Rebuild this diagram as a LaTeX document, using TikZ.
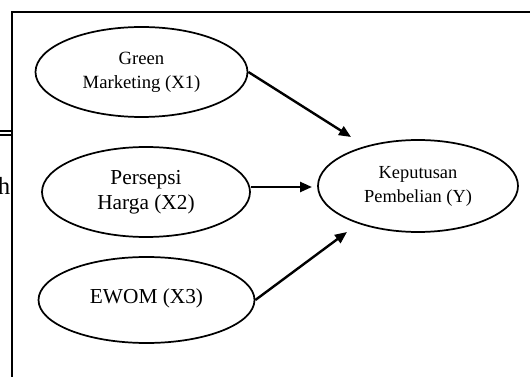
\documentclass[tikz,border=0pt]{standalone}
\usepackage{fontspec}
\setmainfont{Liberation Serif}
\usetikzlibrary{shapes.geometric,arrows.meta}
\begin{document}
\begin{tikzpicture}[x=0.75pt,y=-0.75pt,
  ell/.style={ellipse,draw,line width=1.3pt,inner sep=0pt,align=center},
  arr/.style={line width=1.8pt,-{Triangle[length=9pt,width=7.5pt]}},
  frame/.style={line width=1.7pt}]
\useasboundingbox (0,0) rectangle (530,377);
% frame of the cropped page
\draw[frame] (530,12) -- (12,12) -- (12,377);
\draw[line width=0.8pt] (0,131) -- (12,131);
\draw[line width=0.8pt] (0,135) -- (12,135);
\node[anchor=base east,inner sep=0pt,font=\fontsize{18.5pt}{20pt}\selectfont] (hh) at (10.5,195) {h};
% ellipses
\node[ell,minimum width=159pt,minimum height=67.5pt,font=\fontsize{14pt}{18pt}\selectfont] (e1) at (141.5,72) {Green\\Marketing (X1)};
\node[ell,minimum width=156pt,minimum height=67.5pt,font=\fontsize{16pt}{18.75pt}\selectfont] (e2) at (146,192) {Persepsi\\Harga (X2)};
\node[ell,minimum width=162pt,minimum height=64.5pt,font=\fontsize{16pt}{18.75pt}\selectfont] (e3) at (146.5,300) {\raisebox{6pt}{EWOM (X3)}};
\node[ell,minimum width=150pt,minimum height=69pt,font=\fontsize{13.8pt}{18pt}\selectfont] (ey) at (418,186) {Keputusan\\Pembelian (Y)};
% arrow tips
\coordinate (k1) at (351,137);
\coordinate (k2) at (312,187);
\coordinate (k3) at (347,232);
\draw[arr] (e1.east) -- (k1);
\draw[arr] (e2.east |- k2) -- (k2);
\draw[arr] (e3.east) -- (k3);
\end{tikzpicture}
\end{document}
